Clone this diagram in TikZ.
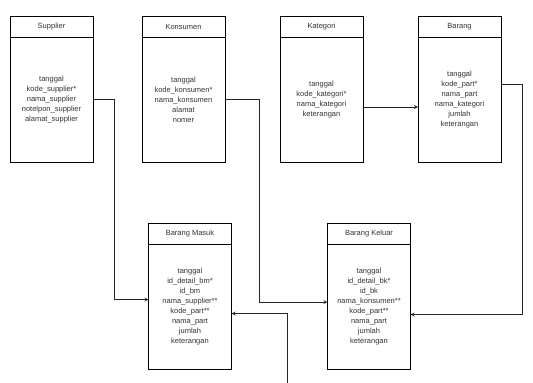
\documentclass[tikz,border=0pt]{standalone}
\usepackage{fontspec}
\setmainfont{Liberation Sans}
\usepackage{xcolor}
\usepackage{tikz}
\usetikzlibrary{
    shapes,
    positioning,
    arrows
}
\definecolor{txt}{HTML}{333333}
\tikzset{head/.style={
    draw,
    fill=white,
    text=txt,
    minimum height=21pt,
    minimum width=83pt,
    outer sep=0pt,
    line width=0.8pt,
    font=\fontsize{7.5}{10}\selectfont,
}}
\tikzset{body/.style={
    draw,
    fill=white,
    text=txt,
    align=center,
    minimum height=125pt,
    minimum width=83pt,
    outer sep=0pt,
    line width=0.8pt,
    font=\fontsize{7.5}{10}\selectfont,
}}
\tikzset{arrow/.style={
    ->,>=stealth,
    line width=0.8pt,
    color=black!85,
}}

\begin{document}
\begin{tikzpicture}[
                x=1pt, y=-1pt,
                node distance=0pt
        ]
            \useasboundingbox (0,0) rectangle (533,383);

            % atas
            \node[head] (supplier) at (51.5,26.5) {Supplier};
            \node[body, below=0pt of supplier] (supplier-b) {tanggal\\kode\_supplier*\\nama\_supplier\\notelpon\_supplier\\alamat\_supplier};

            \node[head, right=49pt of supplier] (konsumen) {Konsumen};
            \node[body, below=0pt of konsumen] (konsumen-b) {tanggal\\kode\_konsumen*\\nama\_konsumen\\alamat\\nomer};

            \node[head, right=55pt of konsumen] (kategori) {Kategori};
            \node[body, below=0pt of kategori] (kategori-b) {tanggal\\kode\_kategori*\\nama\_kategori\\keterangan};

            \node[head, right=55pt of kategori] (barang) {Barang};
            \node[body, below=0pt of barang] (barang-b) {tanggal\\kode\_part*\\nama\_part\\nama\_kategori\\jumlah\\keterangan};

            % bawah
            \node[head] (masuk) at (190,234) {Barang Masuk};
            \node[body, below=0pt of masuk] (masuk-b) {tanggal\\id\_detail\_bm*\\id\_bm\\nama\_supplier**\\kode\_part**\\nama\_part\\jumlah\\keterangan};

            \node[head, right=96pt of masuk] (keluar) {Barang Keluar};
            \node[body, below=0pt of keluar] (keluar-b) {tanggal\\id\_detail\_bk*\\id\_bk\\nama\_konsumen**\\kode\_part**\\nama\_part\\jumlah\\keterangan};

            \coordinate (bebas) at (287,383);

            \draw[arrow] (supplier-b.east) -- ++(21,0) |- ([yshift=7.5pt]masuk-b.west);
            \draw[arrow] (konsumen-b.east) -- ++(34,0) |- ([yshift=5pt]keluar-b.west);
            \draw[arrow] ([yshift=-7.5pt]kategori-b.east) -- ([yshift=-7.5pt]barang-b.west);
            \draw[arrow] ([yshift=15.5pt]barang-b.east) -- ++(21,0) |- ([yshift=-7.5pt]keluar-b.east);
            \draw[arrow] (bebas) |- ([yshift=-6.5pt]masuk-b.east);

        \end{tikzpicture}
\end{document}
